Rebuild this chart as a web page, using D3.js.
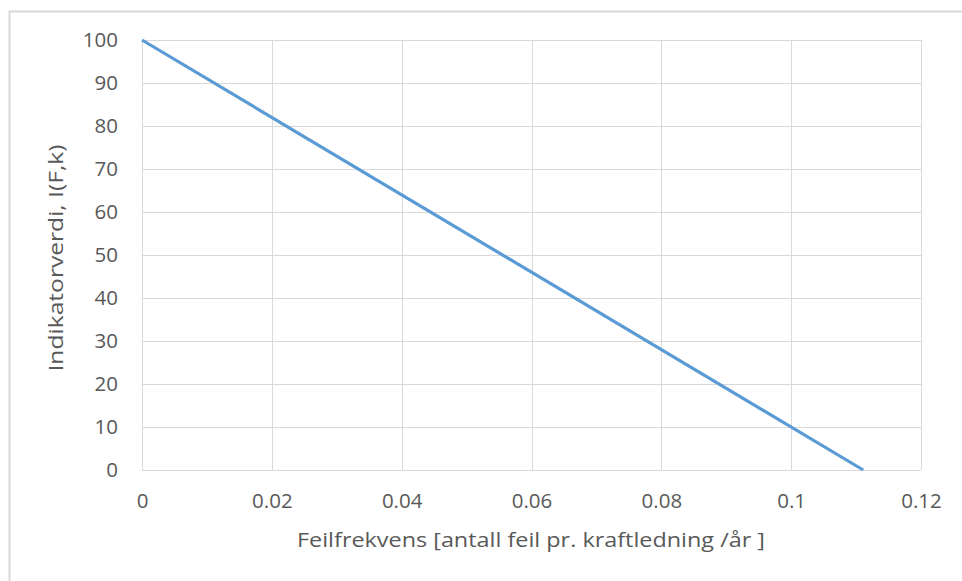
<!DOCTYPE html>
<html>
<head>
<meta charset="utf-8">
<title>Indikatorverdi</title>
<style>
  body { margin: 0; background: #fff; }
  svg text { font-family: "Open Sans", sans-serif; fill: #595959; }
</style>
</head>
<body>
<svg id="chart" width="962" height="581"></svg>
<script src="https://cdn.jsdelivr.net/npm/d3@7"></script>
<script>
// data
var frekvens = [0, 0.1111];
var indikator = [100, 0];
var xTicks = [0, 0.02, 0.04, 0.06, 0.08, 0.1, 0.12];
var yTicks = [0, 10, 20, 30, 40, 50, 60, 70, 80, 90, 100];

var margin = {top: 40, right: 41, bottom: 111, left: 142};
var svg = d3.select('#chart');
var width = +svg.attr('width') - margin.left - margin.right;
var height = +svg.attr('height') - margin.top - margin.bottom;

// outer frame (only left and top visible)
svg.append('path')
    .attr('d', 'M9.5,581 V11.5 H962')
    .attr('fill', 'none')
    .attr('stroke', '#d9d9d9')
    .attr('stroke-width', 2);

var g = svg.append('g')
    .attr('transform', 'translate(' + margin.left + ',' + margin.top + ')');

var x = d3.scaleLinear().domain([0, 0.12]).range([0, width]);
var y = d3.scaleLinear().domain([0, 100]).range([height, 0]);

// gridlines
g.append('g')
    .selectAll('line.h')
    .data(yTicks)
    .enter().append('line')
    .attr('x1', 0).attr('x2', width)
    .attr('y1', d => Math.round(y(d)) + 0.5).attr('y2', d => Math.round(y(d)) + 0.5)
    .attr('stroke', '#d9d9d9');

g.append('g')
    .selectAll('line.v')
    .data(xTicks)
    .enter().append('line')
    .attr('y1', 0).attr('y2', height)
    .attr('x1', d => Math.round(x(d)) + 0.5).attr('x2', d => Math.round(x(d)) + 0.5)
    .attr('stroke', '#d9d9d9');

// axes
var xAxis = g.append('g')
    .attr('transform', 'translate(0,' + height + ')')
    .call(d3.axisBottom(x).tickValues(xTicks).tickSize(0).tickPadding(23)
        .tickFormat(d => d3.format('')(+d.toFixed(2))));
var yAxis = g.append('g')
    .call(d3.axisLeft(y).tickValues(yTicks).tickSize(0).tickPadding(24));

[xAxis, yAxis].forEach(function (a) {
    a.select('.domain').remove();
    a.selectAll('text')
        .style('font-size', '20.5px')
        .attr('fill', '#595959');
});

// line
var line = d3.line()
    .x((d, i) => x(frekvens[i]))
    .y(d => y(d));

g.append('path')
    .datum(indikator)
    .attr('fill', 'none')
    .attr('stroke', '#5b9bd5')
    .attr('stroke-width', 3.2)
    .attr('d', line);

// axis titles
svg.append('text')
    .attr('text-anchor', 'middle')
    .attr('x', 531)
    .attr('y', 547)
    .attr('textLength', 468)
    .attr('lengthAdjust', 'spacingAndGlyphs')
    .style('font-size', '19.5px')
    .text('Feilfrekvens [antall feil pr. kraftledning /år ]');

svg.append('text')
    .attr('text-anchor', 'middle')
    .attr('transform', 'translate(63,258) rotate(-90)')
    .attr('textLength', 227)
    .attr('lengthAdjust', 'spacingAndGlyphs')
    .style('font-size', '19.5px')
    .text('Indikatorverdi, I(F,k)');
</script>
</body>
</html>
